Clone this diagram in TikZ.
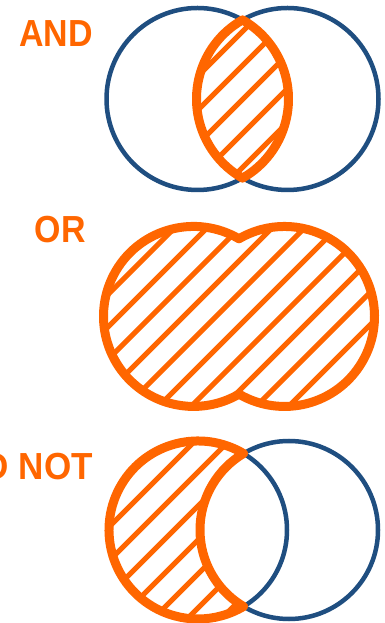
\documentclass[tikz,border=0pt]{standalone}
\usepackage{fontspec}
\setmainfont{Liberation Sans}
\definecolor{vorange}{RGB}{255,102,0}
\definecolor{vblue}{RGB}{31,78,128}
\tikzset{
  blue ring/.style={draw=vblue, line width=4.5pt},
  orange ring/.style={draw=vorange, line width=9pt, line join=round},
  hatch/.style={draw=vorange, line width=5pt},
  oplabel/.style={text=vorange, font=\bfseries\fontsize{37.7}{40}\selectfont, inner sep=0pt, anchor=base east}
}
\begin{document}
\begin{tikzpicture}[x=1pt,y=1pt]
\useasboundingbox (0,0) rectangle (385,623);
\clip (0,0) rectangle (385,623);
\fill[white] (0,0) rectangle (385,623);

% ---------- AND ----------
\node[oplabel] (andlbl) at (93,576) {\scalebox{0.9}[1]{AND}};
\coordinate (andL) at (197.5,524);
\coordinate (andR) at (287.5,524);
\draw[blue ring] (andL) circle[radius=91];
\draw[blue ring] (andR) circle[radius=91];
\begin{scope}
  \clip (andL) circle[radius=91];
  \clip (andR) circle[radius=91];
  \foreach \k in {-20,...,20} {
    \pgfmathsetmacro\b{281+34*\k}
    \draw[hatch] (0,\b) -- (385,385+\b);
  }
\end{scope}
\draw[orange ring] (242.5,444.9)
  arc[start angle=-60.36, end angle=60.36, radius=91]
  arc[start angle=119.64, end angle=240.36, radius=91] -- cycle;

% ---------- OR ----------
\node[oplabel] (orlbl) at (86,380) {\scalebox{0.9}[1]{OR}};
\coordinate (orL) at (193.5,306.5);
\coordinate (orR) at (284.5,306.5);
\begin{scope}
  \clip (orL) circle[radius=90] (orR) circle[radius=90];
  \foreach \k in {-20,...,20} {
    \pgfmathsetmacro\b{188+32.5*\k}
    \draw[hatch] (0,\b) -- (385,385+\b);
  }
\end{scope}
\draw[orange ring] (239,384.2)
  arc[start angle=59.63, end angle=300.37, radius=90]
  arc[start angle=-120.37, end angle=120.37, radius=90] -- cycle;

% ---------- AND NOT ----------
\node[oplabel] (notlbl) at (93,143) {\scalebox{0.93}[1]{AND NOT}};
\coordinate (notL) at (198,93);
\coordinate (notR) at (289,93);
\draw[blue ring] (notL) circle[radius=89];
\draw[blue ring] (notR) circle[radius=89];
\begin{scope}
  \clip (notL) circle[radius=89];
  \begin{scope}[even odd rule]
    \clip (notR) circle[radius=89] (-10,-10) rectangle (400,640);
    \foreach \k in {-20,...,20} {
      \pgfmathsetmacro\b{-47+34*\k}
      \draw[hatch] (0,\b) -- (385,385+\b);
    }
  \end{scope}
\end{scope}
\draw[orange ring] (243.5,169.5)
  arc[start angle=59.25, end angle=300.75, radius=89]
  arc[start angle=239.25, end angle=120.75, radius=89] -- cycle;
\end{tikzpicture}
\end{document}
